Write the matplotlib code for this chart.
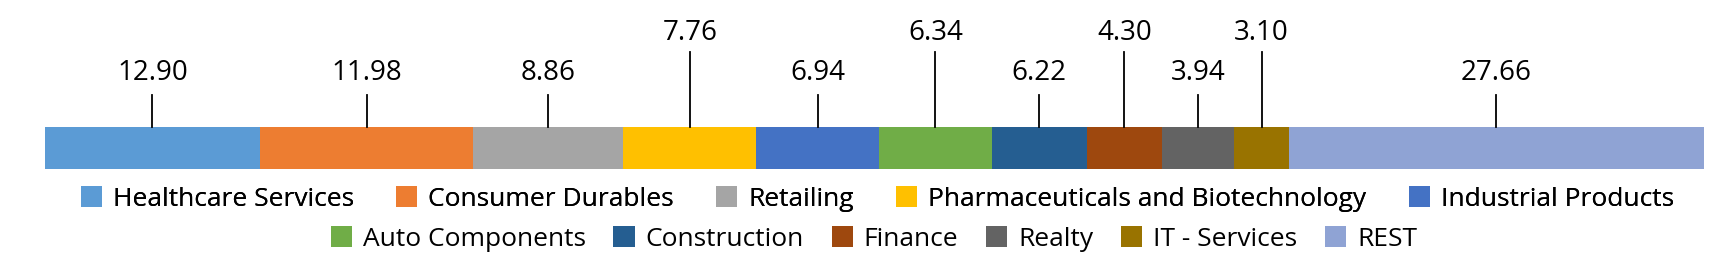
import numpy as np
import matplotlib.pyplot as plt
from matplotlib.patches import Patch

plt.rcParams['font.family'] = ['Open Sans', 'DejaVu Sans']

# sector weights (%) - bar widths as drawn, labels as printed
sectors = ["Healthcare Services", "Consumer Durables", "Retailing",
           "Pharmaceuticals and Biotechnology", "Industrial Products",
           "Auto Components", "Construction", "Finance", "Realty",
           "IT - Services", "REST"]
widths = [13.01, 12.82, 9.06, 8.01, 7.38, 6.81, 5.72, 4.52, 4.37, 3.28, 25.02]
labels = ["12.90", "11.98", "8.86", "7.76", "6.94", "6.34", "6.22",
          "4.30", "3.94", "3.10", "27.66"]
colors = ["#5B9BD5", "#ED7D31", "#A5A5A5", "#FFC000", "#4472C4",
          "#70AD47", "#255E91", "#9E480E", "#636363", "#997300", "#8FA3D4"]

W, H = 1734, 269
fig = plt.figure(figsize=(W / 100, H / 100), dpi=100)
ax = fig.add_axes([44.5 / W, 0, 1659.5 / W, 1])
ax.set_xlim(0, sum(widths))
ax.set_ylim(H, 0)  # y in pixels from top
ax.axis('off')

lefts = np.concatenate([[0], np.cumsum(widths)[:-1]])
ax.barh(147.5, widths, left=lefts, height=42, color=colors, edgecolor='none')

# labels alternate: low / high
high = [False, False, False, True, False, True, False, True, False, True, False]
for l, w, lab, h in zip(lefts, widths, labels, high):
    xc = l + w / 2
    top = 52 if h else 95
    ty = 33 if h else 73
    ax.plot([xc, xc], [126.5, top], color='black', lw=1.3)
    ax.text(xc, ty, lab, ha='center', va='center', fontsize=20)

handles = [Patch(facecolor=c, edgecolor='none') for c in colors]
leg1 = fig.legend(handles[:5], sectors[:5], loc='center', ncol=5,
                  bbox_to_anchor=(0.506, 1 - 199 / H), frameon=False,
                  fontsize=19, handlelength=0.8, handleheight=0.8,
                  handletextpad=0.42, columnspacing=1.6, borderaxespad=0)
fig.add_artist(leg1)
fig.legend(handles[5:], sectors[5:], loc='center', ncol=6,
           bbox_to_anchor=(0.504, 1 - 239 / H), frameon=False,
           fontsize=19, handlelength=0.8, handleheight=0.8,
           handletextpad=0.42, columnspacing=1.05, borderaxespad=0)

fig.savefig("out.png", dpi=100)
